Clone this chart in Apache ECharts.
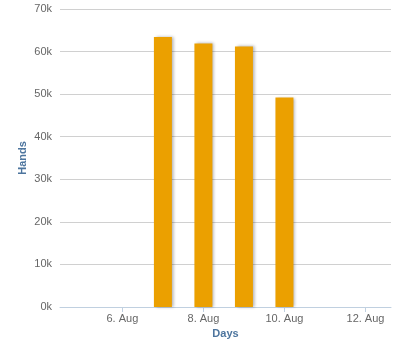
<!DOCTYPE html>
<html>
<head>
<meta charset="utf-8">
<script src="https://cdn.jsdelivr.net/npm/echarts@6/dist/echarts.min.js"></script>
<style>
html,body{margin:0;padding:0;background:#fff;}
#chart{width:400px;height:356px;}
</style>
</head>
<body>
<div id="chart"></div>
<script>
// Days of August (day of month) and hands played
var days = [7, 8, 9, 10];
var hands = [63400, 61900, 61200, 49200];
var xTickDays = [6, 8, 10, 12];
var xTickLabels = ['6. Aug', '8. Aug', '10. Aug', '12. Aug'];

var chart = echarts.init(document.getElementById('chart'));
var font = '"Liberation Sans", Arial, sans-serif';
chart.setOption({
  animation: false,
  grid: {left: 60, right: 9, top: 9, bottom: 49, containLabel: false},
  xAxis: {
    type: 'value',
    min: 4.46,
    max: 12.63,
    name: 'Days',
    nameLocation: 'middle',
    nameGap: 21,
    nameMoveOverlap: false,
    nameTextStyle: {color: '#4d759e', fontSize: 11, fontWeight: 'bold', fontFamily: font},
    axisLine: {show: true, lineStyle: {color: '#C0D0E0', width: 1}},
    axisTick: {show: true, length: 5, lineStyle: {color: '#C0D0E0'}, customValues: xTickDays},
    axisLabel: {
      color: '#666', fontSize: 11, fontFamily: font, margin: 6,
      customValues: xTickDays,
      formatter: function (v) { return xTickLabels[xTickDays.indexOf(Math.round(v))] || ''; }
    },
    splitLine: {show: false}
  },
  yAxis: {
    type: 'value',
    min: 0,
    max: 70000,
    interval: 10000,
    name: 'Hands',
    nameLocation: 'middle',
    nameGap: 32,
    nameMoveOverlap: false,
    nameTextStyle: {color: '#4d759e', fontSize: 11, fontWeight: 'bold', fontFamily: font},
    axisLine: {show: false},
    axisTick: {show: false},
    axisLabel: {
      color: '#666', fontSize: 11, fontFamily: font, margin: 8,
      formatter: function (v) { return (v / 1000) + 'k'; }
    },
    splitLine: {lineStyle: {color: '#d0d0d0', width: 1}}
  },
  series: [{
    type: 'bar',
    barWidth: 18,
    data: days.map(function (d, i) { return [d, hands[i]]; }),
    itemStyle: {
      color: '#EBA000',
      borderWidth: 0,
      shadowColor: 'rgba(0,0,0,0.3)',
      shadowBlur: 3,
      shadowOffsetX: 2,
      shadowOffsetY: 0
    }
  }]
});
</script>
</body>
</html>
